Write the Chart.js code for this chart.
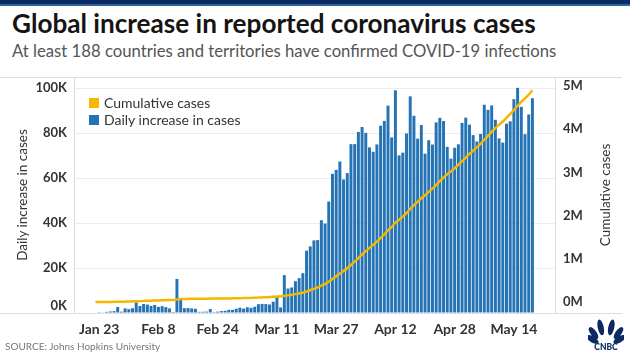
<!DOCTYPE html>
<html><head><meta charset="utf-8">
<script src="https://cdn.jsdelivr.net/npm/chart.js@4.4.1/dist/chart.umd.min.js"></script>
<style>
html,body{margin:0;padding:0;background:#fff;}
#wrap{position:relative;width:630px;height:354px;overflow:hidden;font-family:Lato,"Open Sans",sans-serif;}
#topbar{position:absolute;left:0;top:0;width:630px;height:4px;background:#0b2a63;border-bottom:2px solid #34619f;}
#title{position:absolute;left:12px;top:8px;font-weight:700;font-size:25px;line-height:30px;color:#141414;white-space:nowrap;}
#subtitle{position:absolute;left:12px;top:40px;font-size:18px;line-height:22px;color:#555;white-space:nowrap;}
canvas{position:absolute;left:0;top:0;}
.axt{position:absolute;font-size:13.5px;color:#333;white-space:nowrap;transform:translate(-50%,-50%) rotate(-90deg);}
#legend{position:absolute;left:89px;top:94px;font-size:14px;color:#333;line-height:17px;}
#legend div{display:flex;align-items:center;}
#legend span.sw{display:inline-block;width:10px;height:10px;margin-right:5px;}
#zeroK{position:absolute;right:563px;top:297px;font:bold 13px Lato,sans-serif;color:#333;line-height:16px;}
#source{position:absolute;left:5px;top:340px;font-size:10px;color:#777;white-space:nowrap;}
#logo{position:absolute;left:588px;top:318px;}
</style></head>
<body><div id="wrap">
<div id="topbar"></div>
<div id="title">Global increase in reported coronavirus cases</div>
<div id="subtitle">At least 188 countries and territories have confirmed COVID-19 infections</div>
<canvas id="c" width="630" height="354"></canvas>
<div class="axt" style="left:22px;top:195px;">Daily increase in cases</div>
<div class="axt" style="left:605px;top:195px;">Cumulative cases</div>
<div id="zeroK">0K</div>
<div id="legend">
 <div><span class="sw" style="background:#f5b800"></span>Cumulative cases</div>
 <div><span class="sw" style="background:#2473b5"></span>Daily increase in cases</div>
</div>
<div id="source">SOURCE: Johns Hopkins University</div>
<svg id="logo" width="36" height="34" viewBox="0 0 36 34">
 <g fill="#0b2a63">
  <ellipse cx="7" cy="14" rx="3" ry="7" transform="rotate(-60 12 20)"/>
  <ellipse cx="10" cy="11" rx="3" ry="7" transform="rotate(-36 14 20)"/>
  <ellipse cx="15" cy="9" rx="3" ry="8" transform="rotate(-12 16 20)"/>
  <ellipse cx="21" cy="9" rx="3" ry="8" transform="rotate(12 20 20)"/>
  <ellipse cx="26" cy="11" rx="3" ry="7" transform="rotate(36 22 20)"/>
  <ellipse cx="29" cy="14" rx="3" ry="7" transform="rotate(60 24 20)"/>
  <text x="18" y="32" font-family="Lato,sans-serif" font-weight="900" font-size="8.5" text-anchor="middle">CNBC</text>
 </g>
</svg>
</div>
<script>
const dates = [
 "Jan 22","Jan 23","Jan 24","Jan 25","Jan 26","Jan 27","Jan 28","Jan 29","Jan 30","Jan 31",
 "Feb 1","Feb 2","Feb 3","Feb 4","Feb 5","Feb 6","Feb 7","Feb 8","Feb 9","Feb 10","Feb 11","Feb 12","Feb 13","Feb 14","Feb 15","Feb 16","Feb 17","Feb 18","Feb 19","Feb 20","Feb 21","Feb 22","Feb 23","Feb 24","Feb 25","Feb 26","Feb 27","Feb 28","Feb 29",
 "Mar 1","Mar 2","Mar 3","Mar 4","Mar 5","Mar 6","Mar 7","Mar 8","Mar 9","Mar 10","Mar 11","Mar 12","Mar 13","Mar 14","Mar 15","Mar 16","Mar 17","Mar 18","Mar 19","Mar 20","Mar 21","Mar 22","Mar 23","Mar 24","Mar 25","Mar 26","Mar 27","Mar 28","Mar 29","Mar 30","Mar 31",
 "Apr 1","Apr 2","Apr 3","Apr 4","Apr 5","Apr 6","Apr 7","Apr 8","Apr 9","Apr 10","Apr 11","Apr 12","Apr 13","Apr 14","Apr 15","Apr 16","Apr 17","Apr 18","Apr 19","Apr 20","Apr 21","Apr 22","Apr 23","Apr 24","Apr 25","Apr 26","Apr 27","Apr 28","Apr 29","Apr 30",
 "May 1","May 2","May 3","May 4","May 5","May 6","May 7","May 8","May 9","May 10","May 11","May 12","May 13","May 14","May 15","May 16","May 17","May 18","May 19"
];
const dailyCases = [
 0,99,287,493,684,809,2651,588,2068,1693,
 2111,4749,3094,4011,3743,3159,3597,2729,3030,2612,2040,419,15147,6517,2145,2194,2034,1878,503,558,622,1753,386,603,845,982,1358,1366,1899,
 2358,1937,2534,2280,2766,3915,4046,3974,3769,5030,7255,2477,16853,10896,11353,14120,15528,17719,27749,29638,32299,32446,41282,39810,49608,61938,63700,67415,59411,62248,75122,
 75118,80552,82760,80143,73694,71727,74995,83328,85474,92248,78124,99071,70117,71353,79863,96383,87753,77568,83620,70881,76864,74951,84811,86850,85405,73893,68689,73507,75058,84559,
 86931,83807,79145,76326,79636,92650,90377,92346,85945,77690,75803,84245,85271,95145,100184,91721,79552,88323,95549
];
const cumulativeCases = [
 555,654,941,1434,2118,2927,5578,6166,8234,9927,
 12038,16787,19881,23892,27635,30794,34391,37120,40150,42762,44802,45221,60368,66885,69030,71224,73258,75136,75639,76197,76819,78572,78958,79561,80406,81388,82746,84112,86011,
 88369,90306,92840,95120,97886,101801,105847,109821,113590,118620,125875,128352,145205,156101,167454,181574,197102,214821,242570,272208,304507,336953,378235,418045,467653,529591,593291,660706,720117,782365,857487,
 932605,1013157,1095917,1176060,1249754,1321481,1396476,1479804,1565278,1657526,1735650,1834721,1904838,1976191,2056054,2152437,2240190,2317758,2401378,2472259,2549123,2624074,2708885,2795735,2881140,2955033,3023722,3097229,3172287,3256846,
 3343777,3427584,3506729,3583055,3662691,3755341,3845718,3938064,4024009,4101699,4177502,4261747,4347018,4442163,4542347,4634068,4713620,4801943,4897492
];
const xTickLabels = ["Jan 23","Feb 8","Feb 24","Mar 11","Mar 27","Apr 12","Apr 28","May 14"];
const leftTicks = [0,20000,40000,60000,80000,100000];
const rightTicks = [0,1000000,2000000,3000000,4000000,5000000];

function fit(id, w){
  const el = document.getElementById(id);
  const fs = parseFloat(getComputedStyle(el).fontSize);
  el.style.fontSize = (fs * w / el.getBoundingClientRect().width) + 'px';
}
fit('title', 524);
fit('subtitle', 545);

const frame = {
  id: 'frame',
  beforeDraw(chart){
    const {ctx, chartArea: a} = chart;
    ctx.save();
    ctx.strokeStyle = '#dedede';
    ctx.lineWidth = 1;
    ctx.beginPath();
    ctx.moveTo(0, Math.round(a.top) + 0.5); ctx.lineTo(622, Math.round(a.top) + 0.5);
    ctx.moveTo(0, Math.round(a.bottom) + 0.5); ctx.lineTo(622, Math.round(a.bottom) + 0.5);
    ctx.stroke();
    ctx.restore();
  }
};

const tickFont = {family: 'Lato, sans-serif', size: 13, weight: 'bold'};

new Chart(document.getElementById('c'), {
  type: 'bar',
  data: {
    datasets: [
      {
        type: 'line',
        label: 'Cumulative cases',
        data: cumulativeCases.map((v, i) => ({x: i, y: v})),
        yAxisID: 'y2',
        borderColor: '#f5b800',
        borderWidth: 2.5,
        pointRadius: 0,
        tension: 0.3,
        order: 1
      },
      {
        type: 'bar',
        label: 'Daily increase in cases',
        data: dailyCases.map((v, i) => ({x: i, y: v})),
        yAxisID: 'y',
        backgroundColor: '#2473b5',
        categoryPercentage: 1,
        barPercentage: 0.8,
        order: 2
      }
    ]
  },
  options: {
    responsive: false,
    maintainAspectRatio: false,
    animation: false,
    devicePixelRatio: 1,
    layout: {padding: {top: 77, left: 0, right: 0, bottom: 11}},
    plugins: {legend: {display: false}, tooltip: {enabled: false}},
    scales: {
      x: {
        type: 'linear', min: -5.8, max: 124.1, offset: false,
        grid: {display: false, drawTicks: false},
        border: {display: false},
        afterBuildTicks: s => { s.ticks = xTickLabels.map(l => ({value: dates.indexOf(l)})); },
        afterFit: s => { s.height = 30; },
        ticks: {autoSkip: false, maxRotation: 0, padding: 8, color: '#333',
          font: {family: 'Lato, sans-serif', size: 14, weight: 'bold'},
          callback: v => dates[v]}
      },
      y: {
        position: 'left', min: 0, max: 105000,
        afterBuildTicks: s => { s.ticks = leftTicks.map(v => ({value: v})); },
        afterFit: s => { s.width = 74; },
        grid: {drawTicks: false, color: c => c.tick && c.tick.value === 0 ? 'rgba(0,0,0,0)' : '#ececec'},
        border: {color: '#dcdcdc'},
        ticks: {padding: 7, color: '#333', font: tickFont, callback: v => v === 0 ? '' : (v / 1000) + 'K'}
      },
      y2: {
        position: 'right', min: -255000, max: 5208000,
        afterBuildTicks: s => { s.ticks = rightTicks.map(v => ({value: v})); },
        afterFit: s => { s.width = 75; },
        grid: {display: false, drawTicks: false},
        border: {color: '#dcdcdc'},
        ticks: {padding: 8, color: '#333', font: tickFont, callback: v => (v / 1000000) + 'M'}
      }
    }
  },
  plugins: [frame]
});
</script>
</body></html>
